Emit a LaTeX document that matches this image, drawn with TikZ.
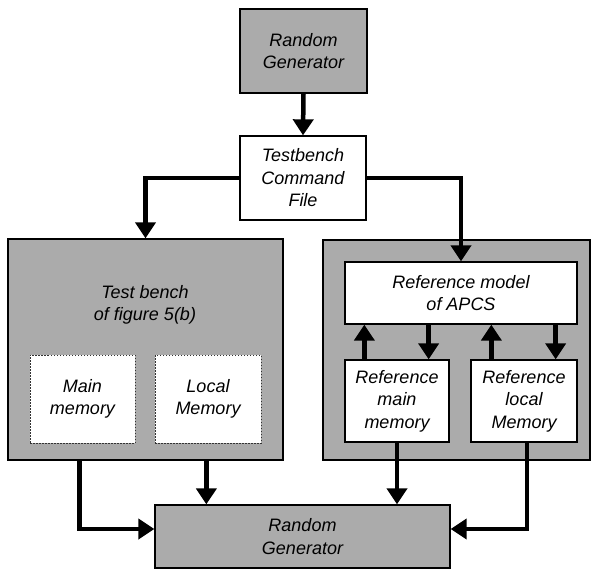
\documentclass[tikz,border=0pt]{standalone}
\usepackage{fontspec}
\setmainfont{Liberation Sans}
\usetikzlibrary{arrows.meta,calc}
\begin{document}
\begin{tikzpicture}[x=1pt,y=-1pt,
  box/.style={draw=black,line width=1.3pt,align=center,inner sep=0pt,
    font=\fontsize{18}{22.5}\selectfont\itshape},
  graybox/.style={box,fill=black!33},
  whitebox/.style={box,fill=white},
  dotbox/.style={box,fill=white,draw=black!80,line width=1pt,dash pattern=on 1.5pt off 1.5pt},
  arr/.style={line width=4.5pt,-{Triangle[length=16pt,width=20pt]}},
  lbl/.style={align=center,font=\fontsize{18}{22.5}\selectfont\itshape}]
\useasboundingbox (0,0) rectangle (596,579);
\node[graybox,minimum width=127,minimum height=84] (rg1) at (303.5,51) {Random\\Generator};
\node[whitebox,minimum width=126,minimum height=84] (tcf) at (303,178) {Testbench\\Command\\File};
\node[graybox,minimum width=275,minimum height=221] (tb) at (145.5,349.5) {};
\node[lbl] (tbl) at (145,305) {Test bench\\of figure 5(b)};
\node[dotbox,minimum width=105,minimum height=88] (mm) at (82.5,399) {Main\\memory};
\node[dotbox,minimum width=106,minimum height=88] (lm) at (208,399) {Local\\Memory};
\node[graybox,minimum width=267,minimum height=220] (rb) at (456.5,350) {};
\node[whitebox,minimum width=232,minimum height=62] (rm) at (461,293) {Reference model\\of APCS};
\node[whitebox,minimum width=104,minimum height=82] (rmm) at (397,401) {Reference\\main\\memory};
\node[whitebox,minimum width=106,minimum height=82] (rlm) at (524,401) {Reference\\local\\Memory};
\node[graybox,minimum width=295,minimum height=63] (rg2) at (302.5,536.5) {Random\\Generator};
% connectors
\draw[arr] (rg1.south) -- (tcf.north);
\draw[arr] (tcf.west) -| (tb.north);
\draw[arr] (tcf.east) -| (rm.north);
\coordinate (u1) at ($(rmm.north west)+(20,0)$);
\coordinate (d1) at ($(rmm.north east)+(-21,0)$);
\coordinate (u2) at ($(rlm.north west)+(21,0)$);
\coordinate (d2) at ($(rlm.north east)+(-22,0)$);
\draw[arr] (u1) -- (u1 |- rm.south);
\draw[arr] (d1 |- rm.south) -- (d1);
\draw[arr] (u2) -- (u2 |- rm.south);
\draw[arr] (d2 |- rm.south) -- (d2);
\coordinate (l1) at ($(tb.south west)+(72,0)$);
\coordinate (lw) at ($(rg2.west)+(0,-7.5)$);
\draw[arr] (l1) |- (lw);
\coordinate (l2) at ($(rg2.north west)+(52,0)$);
\draw[arr] (l2 |- tb.south) -- (l2);
\draw[arr] (rmm.south) -- (rmm.south |- rg2.north);
\coordinate (re) at ($(rg2.east)+(0,-7.5)$);
\draw[arr] ($(rlm.south)+(3,0)$) |- (re);
\end{tikzpicture}
\end{document}
